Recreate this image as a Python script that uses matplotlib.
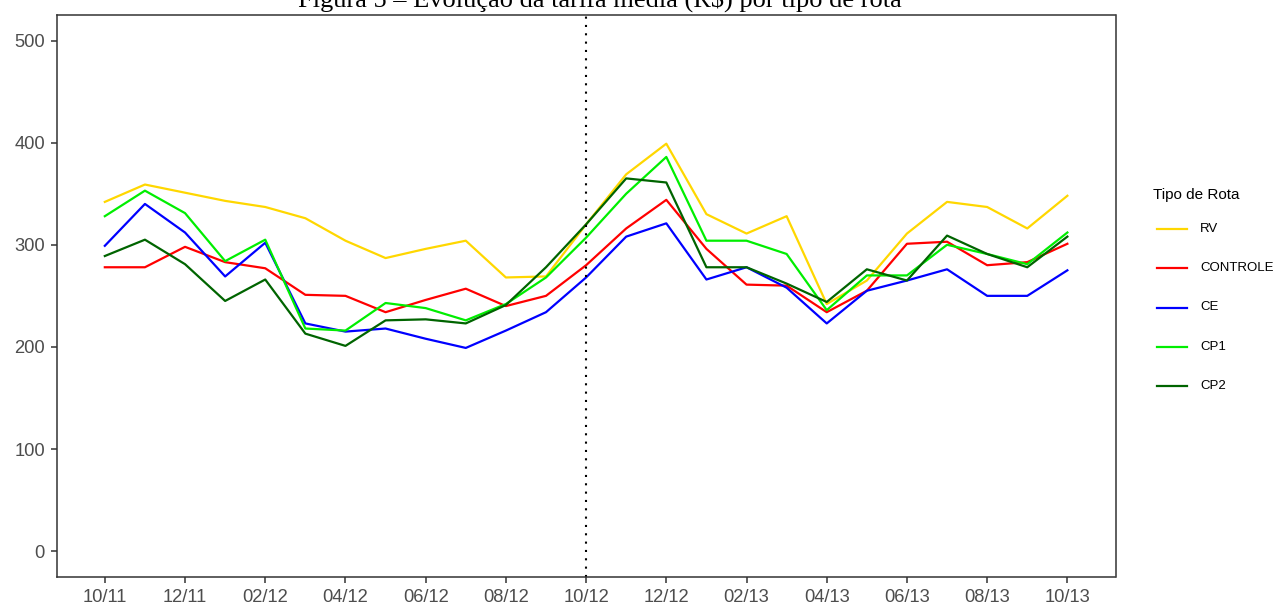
import matplotlib
matplotlib.use("Agg")
import matplotlib.pyplot as plt
from matplotlib.lines import Line2D

months = ["10/11", "11/11", "12/11", "01/12", "02/12", "03/12", "04/12", "05/12",
          "06/12", "07/12", "08/12", "09/12", "10/12", "11/12", "12/12", "01/13",
          "02/13", "03/13", "04/13", "05/13", "06/13", "07/13", "08/13", "09/13", "10/13"]

rv = [342, 359, 351, 343, 337, 326, 304, 287, 296, 304, 268, 269, 320,
      369, 399, 330, 311, 328, 242, 265, 311, 342, 337, 316, 348]
controle = [278, 278, 298, 283, 277, 251, 250, 234, 246, 257, 240, 250, 280,
            316, 344, 296, 261, 260, 234, 255, 301, 303, 280, 283, 301]
ce = [299, 340, 312, 269, 302, 223, 215, 218, 208, 199, 216, 234, 268,
      308, 321, 266, 278, 258, 223, 255, 265, 276, 250, 250, 275]
cp1 = [328, 353, 331, 284, 305, 218, 216, 243, 238, 226, 242, 268, 307,
       350, 386, 304, 304, 291, 236, 270, 270, 300, 291, 281, 312]
cp2 = [289, 305, 281, 245, 266, 213, 201, 226, 227, 223, 241, 278, 320,
       365, 361, 278, 278, 262, 244, 276, 265, 309, 291, 278, 308]

series = [("RV", rv, "#FFD700"), ("CONTROLE", controle, "#FF0000"),
          ("CE", ce, "#0000FF"), ("CP1", cp1, "#00EE00"), ("CP2", cp2, "#006400")]

plt.rcParams['font.family'] = ['Liberation Sans', 'DejaVu Sans']

W, H = 1274, 605
fig = plt.figure(figsize=(W / 100, H / 100), dpi=100)
ax = fig.add_axes([56.7 / W, 1 - 576.7 / H, (1115.5 - 56.7) / W, (576.7 - 15) / H])

x = list(range(len(months)))
for name, vals, col in series:
    ax.plot(x, vals, color=col, lw=1.6, label=name)

ax.axvline(12, color="black", lw=1.5, linestyle=(0, (1, 3)))

ax.set_xlim(-1.2, 25.2)
ax.set_ylim(-25, 525)
ax.set_xticks(x[::2])
ax.set_xticklabels(months[::2])
ax.set_yticks([0, 100, 200, 300, 400, 500])
ax.tick_params(axis="both", colors="#333333", labelcolor="#4D4D4D", labelsize=13.2,
               length=4, width=1.1)
ax.tick_params(axis="x", pad=5)
ax.tick_params(axis="y", pad=4.5)
for s in ax.spines.values():
    s.set_color("#333333")
    s.set_linewidth(1.1)

# legend drawn manually in figure pixel coordinates
def fx(px):
    return px / W

def fy(py):
    return 1 - py / H

fig.text(fx(1153), fy(195), "Tipo de Rota", ha="left", va="center", fontsize=11, color="black")
for k, (name, _, col) in enumerate(series):
    yy = 229 + k * 39.25
    fig.add_artist(Line2D([fx(1157), fx(1187)], [fy(yy), fy(yy)], color=col, lw=1.6,
                          transform=fig.transFigure))
    fig.text(fx(1200), fy(yy), name, ha="left", va="center", fontsize=9.5, color="black")

fig.text(600 / W, 1 - 7 / H, "Figura 5 – Evolução da tarifa média (R$) por tipo de rota",
         ha="center", va="baseline", fontsize=19, family=["Liberation Serif", "DejaVu Serif"])

fig.savefig("out.png", dpi=100)
